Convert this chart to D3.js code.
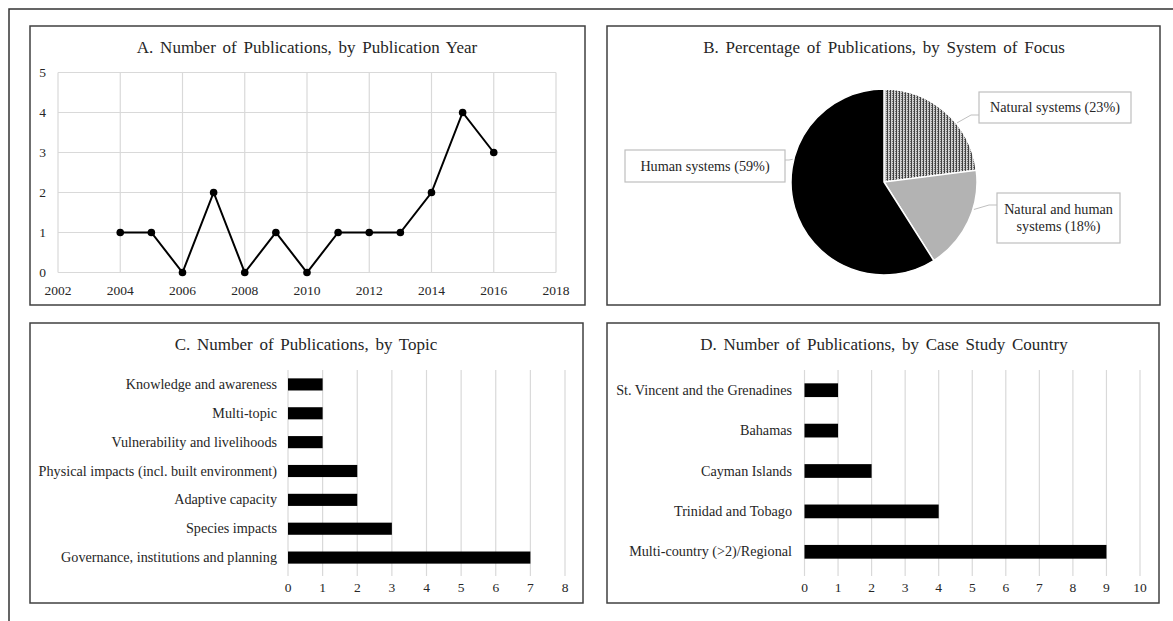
<!DOCTYPE html>
<html lang="en">
<head>
    <meta charset="UTF-8">
    <title>Publications overview</title>
    <script src="https://d3js.org/d3.v7.min.js"></script>
    <style>
        body { margin: 0; background: #fff; }
        svg text { font-family: "Liberation Serif", "Times New Roman", serif; fill: #262626; }
        .title { font-size: 17px; word-spacing: 2.5px; }
        .tick-label { font-size: 13.5px; }
        .cat-label { font-size: 14.2px; }
    </style>
</head>
<body>
    <div id="chart"></div>

    <script>
        // ---- data ----
        const years = [2004, 2005, 2006, 2007, 2008, 2009, 2010, 2011, 2012, 2013, 2014, 2015, 2016];
        const pubsPerYear = [1, 1, 0, 2, 0, 1, 0, 1, 1, 1, 2, 4, 3];
        const yearTicks = [2002, 2004, 2006, 2008, 2010, 2012, 2014, 2016, 2018];
        const countTicksA = [0, 1, 2, 3, 4, 5];

        const systems = ["Natural systems", "Natural and human systems", "Human systems"];
        const systemShares = [23, 18, 59];

        const topics = ["Knowledge and awareness", "Multi-topic", "Vulnerability and livelihoods",
            "Physical impacts (incl. built environment)", "Adaptive capacity", "Species impacts",
            "Governance, institutions and planning"];
        const topicCounts = [1, 1, 1, 2, 2, 3, 7];
        const topicTicks = [0, 1, 2, 3, 4, 5, 6, 7, 8];

        const countries = ["St. Vincent and the Grenadines", "Bahamas", "Cayman Islands",
            "Trinidad and Tobago", "Multi-country (>2)/Regional"];
        const countryCounts = [1, 1, 2, 4, 9];
        const countryTicks = [0, 1, 2, 3, 4, 5, 6, 7, 8, 9, 10];

        const width = 1173;
        const height = 621;
        const gridColor = "#d9d9d9";

        const svg = d3.select("#chart")
            .append("svg")
            .attr("width", width)
            .attr("height", height);

        // outer frame (runs off the right and bottom edges)
        svg.append("path")
            .attr("d", `M${width + 5},9 H9 V${height + 5}`)
            .attr("fill", "none")
            .attr("stroke", "#333")
            .attr("stroke-width", 1.5);

        // panel frames
        const panels = [
            { x: 30, y: 26, w: 555, h: 279, title: "A. Number of Publications, by Publication Year" },
            { x: 607, y: 26, w: 553, h: 279, title: "B. Percentage of Publications, by System of Focus" },
            { x: 30, y: 323, w: 553, h: 280, title: "C. Number of Publications, by Topic" },
            { x: 607, y: 323, w: 552, h: 280, title: "D. Number of Publications, by Case Study Country" }
        ];

        panels.forEach(p => {
            svg.append("rect")
                .attr("x", p.x).attr("y", p.y)
                .attr("width", p.w).attr("height", p.h)
                .attr("fill", "none")
                .attr("stroke", "#404040")
                .attr("stroke-width", 1.5);
        });

        svg.selectAll("text.title")
            .data([
                { t: panels[0].title, x: 307, y: 53 },
                { t: panels[1].title, x: 884, y: 53 },
                { t: panels[2].title, x: 306, y: 350 },
                { t: panels[3].title, x: 884, y: 350 }
            ])
            .join("text")
            .attr("class", "title")
            .attr("x", d => d.x)
            .attr("y", d => d.y)
            .attr("text-anchor", "middle")
            .text(d => d.t);

        // ---- A: line chart ----
        const xA = d3.scaleLinear().domain([2002, 2018]).range([58, 556]);
        const yA = d3.scaleLinear().domain([0, 5]).range([272.5, 72.5]);
        const gA = svg.append("g");

        gA.selectAll("line.hgrid")
            .data(countTicksA)
            .join("line")
            .attr("x1", xA(2002)).attr("x2", xA(2018))
            .attr("y1", d => yA(d)).attr("y2", d => yA(d))
            .attr("stroke", gridColor).attr("stroke-width", 1.2);

        gA.selectAll("line.vgrid")
            .data(yearTicks)
            .join("line")
            .attr("x1", d => xA(d)).attr("x2", d => xA(d))
            .attr("y1", yA(0)).attr("y2", yA(5))
            .attr("stroke", gridColor).attr("stroke-width", 1.2);

        gA.selectAll("text.yl")
            .data(countTicksA)
            .join("text")
            .attr("class", "tick-label")
            .attr("x", 42.5)
            .attr("y", d => yA(d) + 4.5)
            .attr("text-anchor", "middle")
            .text(d => d);

        gA.selectAll("text.xl")
            .data(yearTicks)
            .join("text")
            .attr("class", "tick-label")
            .attr("x", d => xA(d))
            .attr("y", 294.5)
            .attr("text-anchor", "middle")
            .text(d => d);

        const lineData = years.map((y, i) => ({ year: y, n: pubsPerYear[i] }));
        gA.append("path")
            .datum(lineData)
            .attr("fill", "none")
            .attr("stroke", "#000")
            .attr("stroke-width", 2)
            .attr("d", d3.line().x(d => xA(d.year)).y(d => yA(d.n)));

        gA.selectAll("circle")
            .data(lineData)
            .join("circle")
            .attr("cx", d => xA(d.year))
            .attr("cy", d => yA(d.n))
            .attr("r", 3.8)
            .attr("fill", "#000");

        // ---- B: pie ----
        const defs = svg.append("defs");
        const pat = defs.append("pattern")
            .attr("id", "dots")
            .attr("patternUnits", "userSpaceOnUse")
            .attr("width", 3).attr("height", 2);
        pat.append("rect").attr("width", 3).attr("height", 2).attr("fill", "#d0d0d0");
        pat.append("rect").attr("x", 0).attr("width", 1).attr("height", 2).attr("fill", "#404040");
        pat.append("rect").attr("x", 2).attr("y", 1).attr("width", 1).attr("height", 1).attr("fill", "#737373");

        const pieCx = 884, pieCy = 182, pieR = 93;
        const sliceFill = ["url(#dots)", "#b3b3b3", "#000"];
        const pieData = d3.pie().sort(null).value(d => d)(systemShares);
        const arc = d3.arc().innerRadius(0).outerRadius(pieR);
        const gB = svg.append("g").attr("transform", `translate(${pieCx},${pieCy})`);

        gB.selectAll("path")
            .data(pieData)
            .join("path")
            .attr("d", arc)
            .attr("fill", (d, i) => sliceFill[i])
            .attr("stroke", "#fff")
            .attr("stroke-width", 1.5);

        // data label boxes: box position, leader angle on the pie edge
        const labelBoxes = [
            { x: 979, y: 92, w: 152, h: 31, lines: [`${systems[0]} (${systemShares[0]}%)`], ang: 51, side: "left", ly: 115 },
            { x: 997, y: 193, w: 123, h: 50, lines: ["Natural and human", `systems (${systemShares[1]}%)`], ang: 107, side: "left", ly: 205 },
            { x: 625, y: 150, w: 160, h: 32, lines: [`${systems[2]} (${systemShares[2]}%)`], ang: 284, side: "right", ly: 160 }
        ];

        labelBoxes.forEach(b => {
            const [px, py] = d3.pointRadial(b.ang * Math.PI / 180, pieR + 1);
            const ex = b.side === "left" ? b.x : b.x + b.w;
            const kx = b.side === "left" ? ex - 8 : ex + 4;
            svg.append("polyline")
                .attr("points", `${ex},${b.ly} ${kx},${b.ly} ${pieCx + px},${pieCy + py}`)
                .attr("fill", "none")
                .attr("stroke", "#bfbfbf")
                .attr("stroke-width", 1);
            svg.append("rect")
                .attr("x", b.x).attr("y", b.y)
                .attr("width", b.w).attr("height", b.h)
                .attr("fill", "#fff")
                .attr("stroke", "#bfbfbf")
                .attr("stroke-width", 1.2);
            const t = svg.append("text")
                .attr("class", "cat-label")
                .attr("text-anchor", "middle");
            b.lines.forEach((ln, i) => {
                t.append("tspan")
                    .attr("x", b.x + b.w / 2)
                    .attr("y", b.y + b.h / 2 + 4.5 + (i - (b.lines.length - 1) / 2) * 17)
                    .text(ln);
            });
        });

        // ---- C & D: horizontal bars ----
        function barChart(cats, vals, ticks, x0, x1, labelX, barPad) {
            const x = d3.scaleLinear().domain([0, ticks[ticks.length - 1]]).range([x0, x1]);
            const y = d3.scaleBand().domain(cats).range([370, 572]).paddingInner(barPad).paddingOuter(barPad / 2);
            const g = svg.append("g");

            g.selectAll("line.grid")
                .data(ticks)
                .join("line")
                .attr("x1", d => x(d)).attr("x2", d => x(d))
                .attr("y1", 370).attr("y2", 576)
                .attr("stroke", gridColor).attr("stroke-width", 1.2);

            g.selectAll("rect")
                .data(cats)
                .join("rect")
                .attr("x", x(0))
                .attr("y", d => y(d))
                .attr("width", (d, i) => x(vals[i]) - x(0))
                .attr("height", y.bandwidth())
                .attr("fill", "#000");

            g.selectAll("text.cat")
                .data(cats)
                .join("text")
                .attr("class", "cat-label")
                .attr("x", labelX)
                .attr("y", d => y(d) + y.bandwidth() / 2 + 4.5)
                .attr("text-anchor", "end")
                .text(d => d);

            g.selectAll("text.tk")
                .data(ticks)
                .join("text")
                .attr("class", "tick-label")
                .attr("x", d => x(d))
                .attr("y", 592)
                .attr("text-anchor", "middle")
                .text(d => d);
        }

        barChart(topics, topicCounts, topicTicks, 288, 565, 277, 0.58);
        barChart(countries, countryCounts, countryTicks, 804.5, 1140, 792, 0.66);
    </script>
</body>
</html>
